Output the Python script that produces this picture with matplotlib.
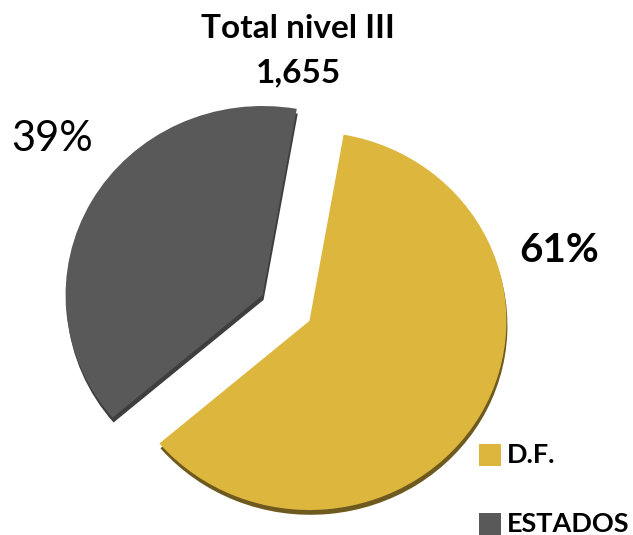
import matplotlib
matplotlib.use("Agg")
import matplotlib.pyplot as plt

# data
labels = ["D.F.", "ESTADOS"]
shares = [61, 39]
total = "1,655"
title = "Total nivel III"

colors = ["#DDB63E", "#595959"]
shadow = ["#6E5A1E", "#3E3E3E"]

W, H = 633, 535
fig = plt.figure(figsize=(W / 100, H / 100), dpi=100)
ax = fig.add_axes([0, 0, 1, 1])
plt.rcParams["font.family"] = ["Lato", "DejaVu Sans"]

# slight vertical squash for the tilted look
k = 0.96
cx, cy, r = 286, (H - 308) / k, 197
explode = [27, 27]  # pie offsets are in data units here

# thin dark rim to mimic the 3d depth
ax.pie(shares, colors=shadow, startangle=80, counterclock=False,
       explode=explode, radius=r, center=(cx + 1, cy - 5),
       wedgeprops=dict(linewidth=0), frame=True)
ax.pie(shares, colors=colors, startangle=80, counterclock=False,
       explode=explode, radius=r, center=(cx, cy),
       wedgeprops=dict(linewidth=0), frame=True)

ax.set_xlim(0, W)
ax.set_ylim(0, H / k)
ax.set_aspect("auto")
ax.axis("off")

def put(x, y, s, **kw):
    fig.text(x / W, 1 - y / H, s, va="center", **kw)

put(298, 29, title, ha="center", fontsize=24, fontweight="bold")
put(298, 73, total, ha="center", fontsize=24, fontweight="bold")

put(52, 139, "%d%%" % shares[1], ha="center", fontsize=30)
put(559, 250, "%d%%" % shares[0], ha="center", fontsize=29, fontweight="bold")

# legend
for i, (lab, col) in enumerate(zip(labels, colors)):
    y = 455 + i * 69
    ax.scatter([490], [(H - y) / k], marker="s", s=230, color=col, linewidths=0)
    put(507, y, lab, ha="left", fontsize=19.5, fontweight="bold")

fig.savefig("out.png", dpi=100)
